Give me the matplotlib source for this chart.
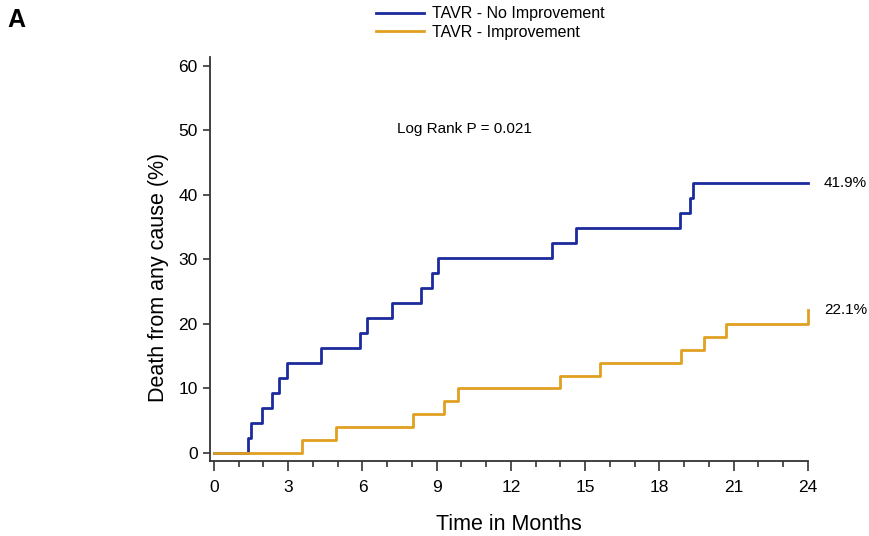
'''
Kaplan-Meier style cumulative death curves, TAVR improvement vs no improvement
'''

import matplotlib
matplotlib.use('Agg')
import matplotlib.pyplot as plt
from matplotlib.ticker import MultipleLocator

plt.rcParams['font.family'] = ['Liberation Sans', 'DejaVu Sans']

# event times (months) and cumulative death (%) after each event
no_impr_times = [1.37, 1.5, 1.93, 2.36, 2.63, 2.93, 4.32, 5.9, 6.2, 7.2,
                 8.38, 8.8, 9.05, 13.64, 14.61, 18.84, 19.23, 19.37]
no_impr_pct = [2.33, 4.65, 6.98, 9.30, 11.63, 13.95, 16.28, 18.60, 20.93,
               23.26, 25.58, 27.91, 30.23, 32.56, 34.88, 37.21, 39.53, 41.86]

impr_times = [3.54, 4.93, 8.05, 9.3, 9.85, 14.0, 15.6, 18.88, 19.8, 20.7, 24.0]
impr_pct = [2.0, 4.0, 6.0, 8.0, 10.0, 12.0, 14.0, 16.0, 18.0, 20.0, 22.1]

end_time = 24
x_ticks = [0, 3, 6, 9, 12, 15, 18, 21, 24]
y_ticks = [0, 10, 20, 30, 40, 50, 60]

BLUE = '#1c2a9c'
ORANGE = '#e0a021'


def step_series(times, pct, end):
    '''
    Build the x/y arrays for a post-step curve starting at 0
    '''
    xs = [0] + list(times)
    ys = [0] + list(pct)
    if xs[-1] < end:
        xs.append(end)
        ys.append(ys[-1])
    return xs, ys


def plot_curves():
    '''
    Draw the chart and save it
    '''
    fig = plt.figure(figsize=(8.69, 5.36), dpi=100)
    ax = fig.add_axes([0.2417, 0.1399, 0.6881, 0.7537])

    bx, by = step_series(no_impr_times, no_impr_pct, end_time)
    ox, oy = step_series(impr_times, impr_pct, end_time)
    line_b, = ax.step(bx, by, where='post', color=BLUE, lw=2.0,
                      label='TAVR - No Improvement', clip_on=False)
    line_o, = ax.step(ox, oy, where='post', color=ORANGE, lw=2.0,
                      label='TAVR - Improvement', clip_on=False)

    ax.set_xlim(-0.16, 24)
    ax.set_ylim(-1.24, 61.35)
    ax.set_xticks(x_ticks)
    ax.set_yticks(y_ticks)
    ax.xaxis.set_minor_locator(MultipleLocator(1))
    for side in ('top', 'right'):
        ax.spines[side].set_visible(False)
    for side in ('left', 'bottom'):
        ax.spines[side].set_color('#333333')
        ax.spines[side].set_linewidth(1.3)
    ax.tick_params(axis='both', which='major', labelsize=12.5, length=5,
                   width=1.2, color='#333333', pad=4)
    ax.tick_params(axis='x', which='major', length=7, pad=7)
    ax.tick_params(axis='x', which='minor', length=4, width=1.2,
                   color='#333333')

    ax.set_xlabel('Time in Months', fontsize=15.5, labelpad=13)
    ax.set_ylabel('Death from any cause (%)', fontsize=15.5)
    ax.yaxis.set_label_coords(-0.068, 0.455)

    ax.text(7.4, 50.2, 'Log Rank P = 0.021', fontsize=11, va='center')
    ax.text(24.65, no_impr_pct[-1], '%.1f%%' % no_impr_pct[-1],
            fontsize=11, va='center')
    ax.text(24.65, impr_pct[-1], '%.1f%%' % impr_pct[-1],
            fontsize=11, va='center')

    fig.legend(handles=[line_b, line_o], loc='upper left',
               bbox_to_anchor=(0.425, 1.0), frameon=False, fontsize=11.5,
               handlelength=3.0, handletextpad=0.5, labelspacing=0.2,
               borderaxespad=0)
    fig.text(0.008, 0.985, 'A', fontsize=18, fontweight='bold', va='top')

    fig.savefig('out.png', dpi=100)


plot_curves()
